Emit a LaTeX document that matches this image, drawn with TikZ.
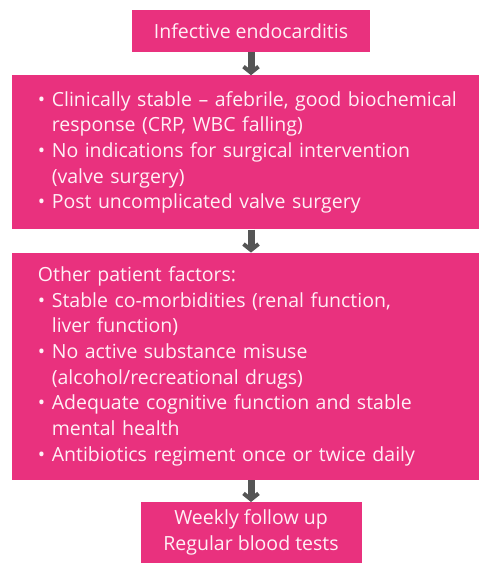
\documentclass[tikz,border=0pt]{standalone}
\usepackage{fontspec}
\setmainfont{Open Sans}
\usetikzlibrary{positioning,arrows.meta}
\definecolor{ecpink}{RGB}{233,49,126}
\definecolor{ectext}{RGB}{255,240,246}
\definecolor{ecarrow}{RGB}{85,85,85}

\begin{document}
\begin{tikzpicture}[x=1pt,y=-1pt,
    box/.style={fill=ecpink,text=ectext,inner sep=0pt,font=\fontsize{19.5}{25.7}\selectfont},
    listbox/.style={box,text width=467pt,align=left,execute at begin node={\leftskip=26pt\relax}},
    flow/.style={draw=ecarrow,line width=7pt,-{Straight Barb[length=6pt,width=15pt,line width=4pt]}}]

\useasboundingbox (0,0) rectangle (479,563);

% boxes, top to bottom
\node[box,minimum width=238pt,minimum height=42pt] (start) at (251,31) {Infective endocarditis};
\node[listbox,minimum height=154pt,below=23pt of start,xshift=-5.5pt] (stable) {%
  \textbullet\ Clinically stable -- afebrile, good biochemical\\
  \hphantom{\textbullet\ }response (CRP, WBC falling)\\
  \textbullet\ No indications for surgical intervention\\
  \hphantom{\textbullet\ }(valve surgery)\\
  \textbullet\ Post uncomplicated valve surgery};
\node[listbox,minimum height=227pt,below=23pt of stable] (factors) {%
  Other patient factors:\\
  \textbullet\ Stable co-morbidities (renal function,\\
  \hphantom{\textbullet\ }liver function)\\
  \textbullet\ No active substance misuse\\
  \hphantom{\textbullet\ }(alcohol/recreational drugs)\\
  \textbullet\ Adequate cognitive function and stable\\
  \hphantom{\textbullet\ }mental health\\
  \textbullet\ Antibiotics regiment once or twice daily};
\node[box,align=center,minimum width=221pt,minimum height=61pt,below=22pt of factors,xshift=5.5pt] (follow) {Weekly follow up\\Regular blood tests};

% arrows
\draw[flow] (start.south) -- (start.south |- stable.north);
\draw[flow] (start.south |- stable.south) -- (start.south |- factors.north);
\draw[flow] (start.south |- factors.south) -- (follow.north);
\end{tikzpicture}
\end{document}
